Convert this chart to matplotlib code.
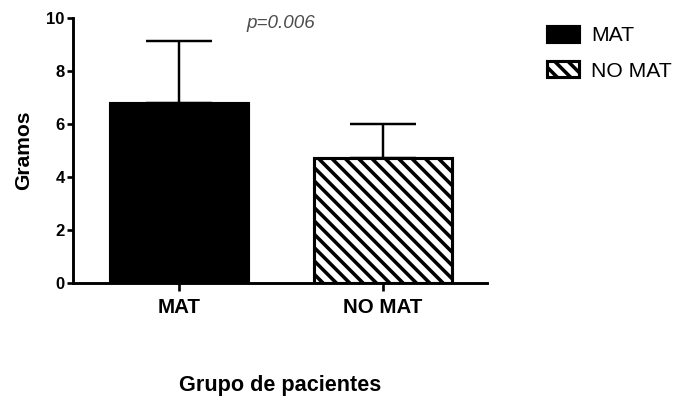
import matplotlib
matplotlib.use("Agg")
import matplotlib.pyplot as plt

# Group means (grams) and upper standard deviation
groups = ["MAT", "NO MAT"]
means = [6.8, 4.7]
sd_upper = [2.35, 1.3]
y_ticks = [0, 2, 4, 6, 8, 10]
p_label = "p=0.006"

DPI = 80
plt.rcParams["font.family"] = ["Liberation Sans", "DejaVu Sans"]
plt.rcParams["hatch.linewidth"] = 3.2

fig = plt.figure(figsize=(678 / DPI, 403 / DPI), dpi=DPI)
ax = fig.add_axes([73 / 678, 1 - 283 / 403, (487 - 73) / 678, (283 - 18) / 403])

x = list(range(len(groups)))
styles = [dict(facecolor="black", hatch=None), dict(facecolor="white", hatch="\\\\")]
for xi, m, s, st in zip(x, means, sd_upper, styles):
    ax.bar(xi, m, width=0.68, facecolor=st["facecolor"], edgecolor="black",
           hatch=st["hatch"], linewidth=2.8, label=groups[xi], zorder=2)

ax.errorbar(x, means, yerr=[[0] * len(means), sd_upper], fmt="none",
            ecolor="black", elinewidth=2.2, capsize=29.5, capthick=2.2, zorder=1)

ax.set_xlim(-0.52, 1.51)
ax.set_ylim(0, 10)
ax.set_yticks(y_ticks)
ax.set_xticks(x)
ax.set_xticklabels(groups, fontsize=18.5, fontweight="bold")
ax.set_yticklabels([str(t) for t in y_ticks], fontsize=15, fontweight="bold")

for side in ("top", "right"):
    ax.spines[side].set_visible(False)
for side in ("left", "bottom"):
    ax.spines[side].set_linewidth(2.6)

ax.tick_params(axis="y", direction="out", length=5, width=2.4, pad=2.5)
ax.tick_params(axis="x", direction="out", length=7.5, width=2.4, pad=6)

ax.set_ylabel("Gramos", fontsize=19, fontweight="bold", labelpad=12)
fig.text(280 / 678, 1 - 385 / 403, "Grupo de pacientes", fontsize=19.5,
         fontweight="bold", ha="center", va="center")

ax.text(0.5, 9.8, p_label, fontsize=17, style="italic", color="#4d4d4d",
        ha="center", va="center")

fig.legend(loc="upper left", bbox_to_anchor=(547 / 678, 1 - 26 / 403),
           frameon=False, fontsize=19, borderpad=0, borderaxespad=0,
           handlelength=1.5, handleheight=0.8, handletextpad=0.6,
           labelspacing=0.75)

fig.savefig("out.png", dpi=DPI)
